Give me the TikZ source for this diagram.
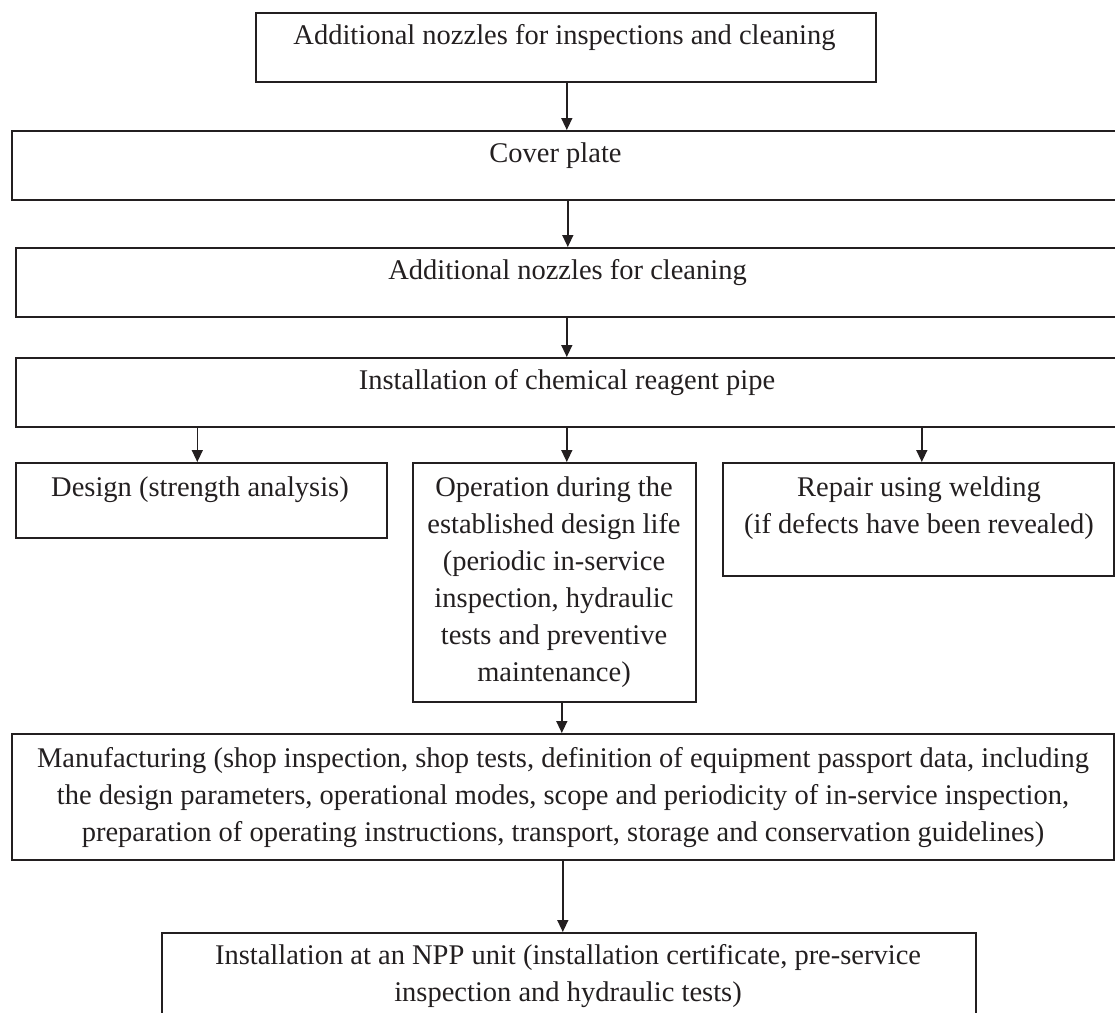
\documentclass[tikz,border=0pt]{standalone}
\usepackage{fontspec}
\setmainfont{Liberation Serif}
\usetikzlibrary{arrows.meta}
\definecolor{ink}{HTML}{231F20}
\begin{document}
\begin{tikzpicture}[x=1pt,y=-1pt,
  frame/.style={draw=ink, line width=1.6pt, rectangle, inner sep=0pt, anchor=north west},
  txt/.style={anchor=north, inner sep=0pt, text=ink, align=center,
              font=\fontsize{28.5}{37}\selectfont},
  arr/.style={draw=ink, line width=1.4pt, -{Triangle[width=11pt,length=12pt]}}]
\clip (0,0) rectangle (1115,1012);

% frames
\node[frame, minimum width=620pt,  minimum height=69pt]  (b1)  at (255,12)  {};
\node[frame, minimum width=1114pt, minimum height=69pt]  (b2)  at (11,130)  {};
\node[frame, minimum width=1110pt, minimum height=69pt]  (b3)  at (15,247)  {};
\node[frame, minimum width=1110pt, minimum height=69pt]  (b4)  at (15,357)  {};
\node[frame, minimum width=371pt,  minimum height=75pt]  (des) at (15,462)  {};
\node[frame, minimum width=283pt,  minimum height=239pt] (op)  at (412,462) {};
\node[frame, minimum width=391pt,  minimum height=113pt] (rep) at (722,462) {};
\node[frame, minimum width=1102pt, minimum height=126pt] (man) at (11,733)  {};
\node[frame, minimum width=814pt,  minimum height=110pt] (ins) at (161,932) {};

% labels
\node[txt] (t1) at (564.5,18.1) {\strut Additional nozzles for inspections and cleaning};
\node[txt] (t2) at (555.5,136.1) {\strut Cover plate};
\node[txt] (t3) at (567.5,253.1) {\strut Additional nozzles for cleaning};
\node[txt] (t4) at (567,363.1) {\strut Installation of chemical reagent pipe};
\node[txt] (tdes) at (200,470.1) {\strut Design (strength analysis)};
\node[txt] (top) at (554,470.1) {\strut Operation during the\\established design life\\(periodic in-service\\inspection, hydraulic\\tests and preventive\\maintenance)};
\node[txt] (trep) at (919,470.1) {\strut Repair using welding\\(if defects have been revealed)};
\node[txt] (tman) at (563,741.1) {\strut Manufacturing (shop inspection, shop tests, definition of equipment passport data, including\\the design parameters, operational modes, scope and periodicity of in-service inspection,\\preparation of operating instructions, transport, storage and conservation guidelines)};
\node[txt] (tins) at (568,938.1) {\strut Installation at an NPP unit (installation certificate, pre-service\\inspection and hydraulic tests)};

% connectors
\draw[arr] ([xshift=1pt]b1.south) -- ([xshift=1pt]b1.south |- b2.north);
\draw[arr] ([xshift=-1pt]b2.south) -- ([xshift=-1pt]b2.south |- b3.north);
\draw[arr] ([xshift=-4pt]b3.south) -- ([xshift=-4pt]b3.south |- b4.north);
\draw[arr] ([xshift=-4pt]des.north |- b4.south) -- ([xshift=-4pt]des.north);
\draw[arr] ([xshift=12.5pt]op.north |- b4.south) -- ([xshift=12.5pt]op.north);
\draw[arr] ([xshift=3.5pt]rep.north |- b4.south) -- ([xshift=3.5pt]rep.north);
\draw[arr] ([xshift=7.5pt]op.south) -- ([xshift=7.5pt]op.south |- man.north);
\draw[arr] ([xshift=-6pt]ins.north |- man.south) -- ([xshift=-6pt]ins.north);
\end{tikzpicture}
\end{document}
